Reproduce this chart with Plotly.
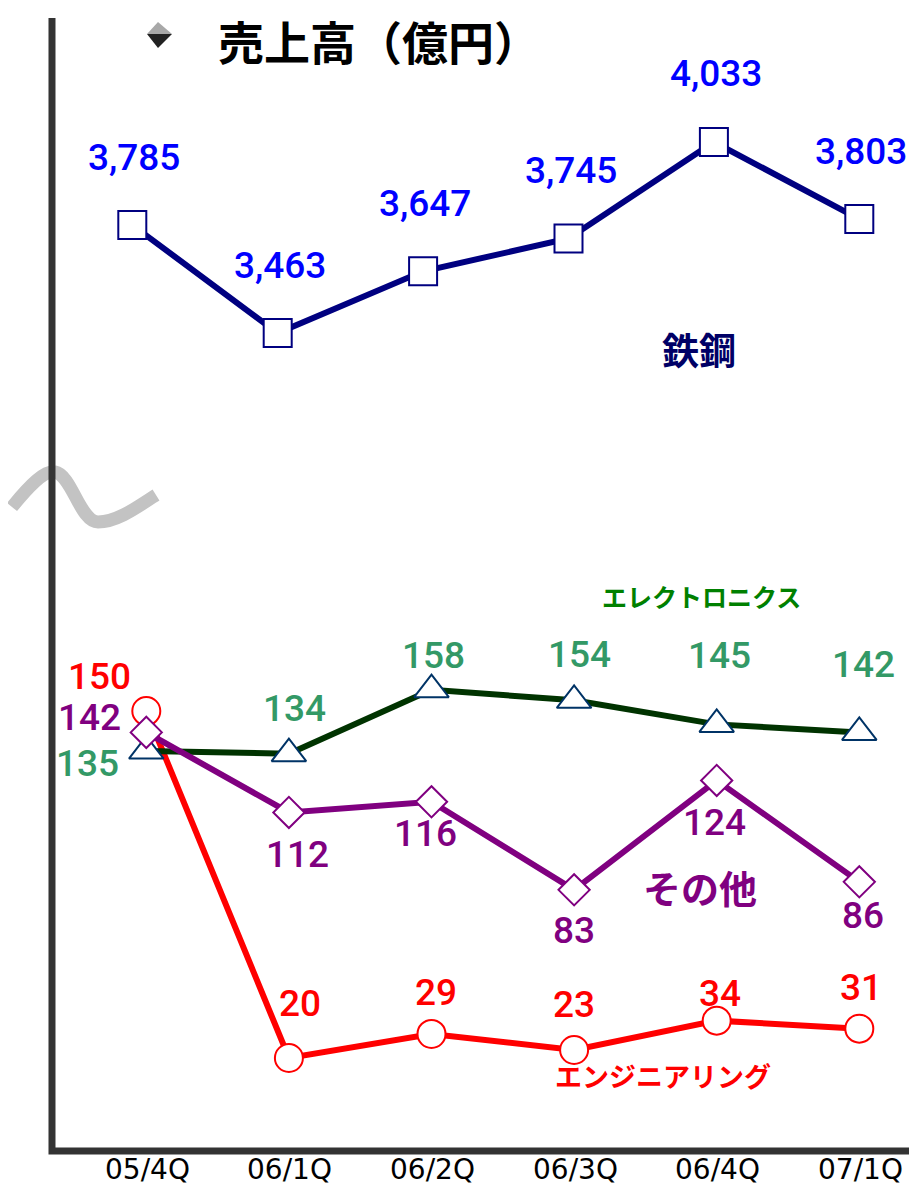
import plotly.graph_objects as go

# ---------------- data ----------------
categories = ["05/4Q", "06/1Q", "06/2Q", "06/3Q", "06/4Q", "07/1Q"]
steel = [3785, 3463, 3647, 3745, 4033, 3803]
electronics = [135, 134, 158, 154, 145, 142]
engineering = [150, 20, 29, 23, 34, 31]
others = [142, 112, 116, 83, 124, 86]

title_text = "売上高（億円）"
name_steel = "鉄鋼"
name_elec = "エレクトロニクス"
name_eng = "エンジニアリング"
name_other = "その他"

# ---------------- layout helpers ----------------
# page body has an 8px margin; work in page pixels and convert
OFF = 8
W, H = 917 - OFF, 1194 - 2 * OFF
AXIS_Y = 1151              # page pixel of the x-axis line
PH = AXIS_Y - OFF          # plot-area height in figure pixels
MB = H - PH


def pxx(x):
    return (x - OFF) / W


def pxy(y):
    return 1 - (y - OFF) / PH


idx = list(range(len(categories)))

# label offsets (pixels: dx right, dy up)
steel_off = [(2, 68)] * 6
eng_off = [(-47, 35), (11, 55), (4, 41), (0, 45), (3, 27), (2, 41)]
elec_off = [(-59, -12), (6, 45), (2, 34), (5, 46), (3, 69), (4, 68)]
other_off = [(-57, 15), (9, -42), (-6, -32), (0, -41), (-2, -42), (4, -34)]

C_STEEL_LINE = "#000080"
C_STEEL_LBL = "#0000FF"
C_ELEC_LINE = "#003300"
C_ELEC_MK = "#003366"
C_ELEC_LBL = "#339966"
C_ELEC_NAME = "#008000"
C_ENG = "#FF0000"
C_OTHER = "#800080"

fig = go.Figure()

# bottom series
fig.add_trace(go.Scatter(
    x=idx, y=engineering, mode="lines+markers", xaxis="x", yaxis="y",
    line=dict(color=C_ENG, width=6),
    marker=dict(symbol="circle", size=28, color="white", line=dict(color=C_ENG, width=2)),
    showlegend=False, cliponaxis=False))
fig.add_trace(go.Scatter(
    x=idx, y=electronics, mode="lines+markers", xaxis="x", yaxis="y",
    line=dict(color=C_ELEC_LINE, width=6),
    marker=dict(symbol="triangle-up", size=30, color="white", line=dict(color=C_ELEC_MK, width=2)),
    showlegend=False, cliponaxis=False))
fig.add_trace(go.Scatter(
    x=idx, y=others, mode="lines+markers", xaxis="x", yaxis="y",
    line=dict(color=C_OTHER, width=6),
    marker=dict(symbol="diamond", size=24, color="white", line=dict(color=C_OTHER, width=2)),
    showlegend=False, cliponaxis=False))

# top series
fig.add_trace(go.Scatter(
    x=idx, y=steel, mode="lines+markers", xaxis="x2", yaxis="y2",
    line=dict(color=C_STEEL_LINE, width=6),
    marker=dict(symbol="square", size=28, color="white", line=dict(color=C_STEEL_LINE, width=2)),
    showlegend=False, cliponaxis=False))

ann = []
num_font = dict(family="Roboto", size=37, weight=500)


def add_labels(vals, offs, color, xref, yref, fmt):
    for i, v in enumerate(vals):
        dx, dy = offs[i]
        ann.append(dict(x=i, y=v, xref=xref, yref=yref, text=fmt(v), showarrow=False,
                        xshift=dx, yshift=dy, font=dict(num_font, color=color),
                        xanchor="center", yanchor="middle"))


add_labels(steel, steel_off, C_STEEL_LBL, "x2", "y2", lambda v: f"{v:,}")
add_labels(engineering, eng_off, C_ENG, "x", "y", lambda v: f"{v}")
add_labels(electronics, elec_off, C_ELEC_LBL, "x", "y", lambda v: f"{v}")
add_labels(others, other_off, C_OTHER, "x", "y", lambda v: f"{v}")

# category labels along the x axis (placed through the x axis scale)
for i, c in enumerate(categories):
    ann.append(dict(x=i, y=pxy(1169), xref="x", yref="paper", text=c, showarrow=False,
                    xshift=1, font=dict(family="DejaVu Sans", size=28, color="black"),
                    xanchor="center", yanchor="middle"))

cjk = "Noto Sans CJK JP"
ann.append(dict(x=pxx(379), y=pxy(40), xref="paper", yref="paper", text=title_text,
                showarrow=False, font=dict(family=cjk, size=46, color="black", weight="bold"),
                xanchor="center", yanchor="middle"))
ann.append(dict(x=pxx(699), y=pxy(349), xref="paper", yref="paper", text=name_steel,
                showarrow=False, font=dict(family=cjk, size=37, color="#000066", weight="bold"),
                xanchor="center", yanchor="middle"))
ann.append(dict(x=pxx(701), y=pxy(596), xref="paper", yref="paper", text=name_elec,
                showarrow=False, font=dict(family=cjk, size=25, color=C_ELEC_NAME, weight="bold"),
                xanchor="center", yanchor="middle"))
ann.append(dict(x=pxx(700), y=pxy(886), xref="paper", yref="paper", text=name_other,
                showarrow=False, font=dict(family=cjk, size=38, color=C_OTHER, weight="bold"),
                xanchor="center", yanchor="middle"))
ann.append(dict(x=pxx(663), y=pxy(1075), xref="paper", yref="paper", text=name_eng,
                showarrow=False, font=dict(family=cjk, size=27, color=C_ENG, weight="bold"),
                xanchor="center", yanchor="middle"))


def P(x, y):
    return f"{pxx(x):.5f},{pxy(y):.5f}"


shapes = []
# break symbol (tilde)
shapes.append(dict(type="path", xref="paper", yref="paper",
                   path=f"M {P(12,507)} C {P(30,485)} {P(45,470)} {P(55,472)} "
                        f"C {P(72,475)} {P(80,522)} {P(98,522)} "
                        f"C {P(118,522)} {P(140,505)} {P(156,495)}",
                   line=dict(color="#C3C3C3", width=13), layer="above"))
# axis frame
shapes.append(dict(type="path", xref="paper", yref="paper",
                   path=f"M {P(52,18)} L {P(52,AXIS_Y)} L {P(930,AXIS_Y)}",
                   line=dict(color="#333333", width=7), layer="above"))
# title bullet
shapes.append(dict(type="path", xref="paper", yref="paper",
                   path=f"M {P(158,22)} L {P(172,34)} L {P(147,34)} Z",
                   fillcolor="#A8A8A8", line=dict(width=0), layer="above"))
shapes.append(dict(type="path", xref="paper", yref="paper",
                   path=f"M {P(147,34)} L {P(172,34)} L {P(158,48)} Z",
                   fillcolor="#222222", line=dict(width=0), layer="above"))

# bottom axes (page px): x = 146.3 + 142.6*i ; y: 20 at 1058, 2.669 px/unit
bx0, bdx = 146.3 - OFF, 142.6
by_ref, by_px, bscale = 20, 1058 - OFF, 2.669
# top axes (page px): x = 132.3 + 145.4*i ; y: 3463 at 333, 0.3351 px/unit
tx0, tdx = 132.3 - OFF, 145.4
ty_ref, ty_px, tscale = 3463, 333 - OFF, 0.3351

fig.update_layout(
    width=W, height=H,
    margin=dict(l=0, r=0, t=0, b=MB, pad=0, autoexpand=False),
    paper_bgcolor="white", plot_bgcolor="white",
    showlegend=False,
    xaxis=dict(range=[-bx0 / bdx, (W - bx0) / bdx], tickvals=idx,
               showticklabels=False, ticks="",
               showgrid=False, zeroline=False, showline=False, automargin=False),
    yaxis=dict(range=[by_ref - (PH - by_px) / bscale, by_ref + by_px / bscale],
               visible=False, automargin=False),
    xaxis2=dict(range=[-tx0 / tdx, (W - tx0) / tdx], overlaying="x", visible=False),
    yaxis2=dict(range=[ty_ref - (PH - ty_px) / tscale, ty_ref + ty_px / tscale],
                overlaying="y", visible=False),
    annotations=ann,
    shapes=shapes,
)

fig.write_html("out.html")
